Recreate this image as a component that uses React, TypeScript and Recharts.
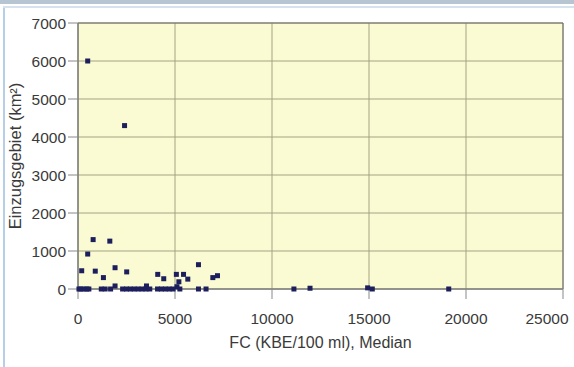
import { ScatterChart, Scatter, XAxis, YAxis, CartesianGrid, ReferenceArea } from 'recharts';

// FC median (KBE/100 ml) vs catchment area (km²)
const fcMedian = [
  500, 2400,
  190, 500, 780, 890, 1310, 1640, 1910, 2510,
  4110, 4420, 5070, 5200, 5440, 5660, 6210, 6950, 7190,
  1910, 3530, 5100,
  50, 150, 300, 450, 560, 1200, 1400, 1680, 2300, 2500, 2700, 2900, 3100, 3300,
  3500, 3700, 4100, 4300, 4500, 4700, 4900, 5250, 6210, 6600,
  11130, 11960, 14930, 15170, 19110,
];
const catchment = [
  6000, 4300,
  480, 920, 1300, 470, 300, 1260, 560, 450,
  385, 270, 385, 190, 385, 260, 640, 300, 350,
  80, 80, 60,
  0, 0, 0, 0, 0, 0, 0, 0, 0, 0, 0, 0, 0, 0,
  0, 0, 0, 0, 0, 0, 0, 0, 0, 0,
  0, 20, 30, 0, 0,
];

const xTicks = [0, 5000, 10000, 15000, 20000, 25000];
const yTicks = [0, 1000, 2000, 3000, 4000, 5000, 6000, 7000];

const points = fcMedian.map((x, i) => ({ x, y: catchment[i] }));

const Square = (props: any) => {
  const { cx, cy } = props;
  return <rect x={cx - 2.5} y={cy - 2.5} width={5} height={5} fill="#1c1f5c" />;
};

const fam = 'Liberation Sans, Arial, sans-serif';
const font = { fontFamily: fam, fontSize: 15.5, fill: '#3a3a3a' };

// last label sits a bit left, as in the scan
const XTick = (props: any) => {
  const { x, y, payload } = props;
  const shift = payload.value === 25000 ? -7 : 0;
  return (
    <text x={x + shift} y={y} dy="0.71em" textAnchor="middle" {...font}>
      {payload.value}
    </text>
  );
};

export default function App() {
  return (
    <div style={{ position: 'fixed', left: 0, top: 0, width: 574, height: 367, background: '#fff', overflow: 'hidden' }}>
      <div style={{ position: 'absolute', left: 0, top: 0, width: 574, height: 4, background: '#b7c4d2' }} />
      <div style={{ position: 'absolute', left: 3, top: 6, width: 2, height: 361, background: '#b4cfe6' }} />
      <div style={{ position: 'absolute', left: 3, top: 6, width: 571, height: 2, background: '#d6e2ee' }} />
      <ScatterChart width={574} height={367} margin={{ top: 23, right: 11, bottom: 0, left: 0 }}>
        <CartesianGrid stroke="#a3a384" fill="#fbfbd3" />
        <ReferenceArea x1={0} x2={25000} y1={0} y2={7000} fill="none" stroke="#6b6b6b" strokeOpacity={1} fillOpacity={0} />
        <XAxis
          dataKey="x"
          type="number"
          domain={[0, 25000]}
          ticks={xTicks}
          height={78}
          tickSize={10}
          tickMargin={14}
          stroke="#888"
          tick={<XTick />}
          label={{ value: 'FC (KBE/100 ml), Median', position: 'insideTop', offset: 48, style: { ...font, fontSize: 16 } }}
        />
        <YAxis
          dataKey="y"
          type="number"
          domain={[0, 7000]}
          ticks={yTicks}
          width={78}
          tickSize={10}
          tickMargin={2}
          stroke="#888"
          tick={font}
          label={{ value: 'Einzugsgebiet (km²)', angle: -90, position: 'insideLeft', offset: 15, style: { ...font, fontSize: 16.5, textAnchor: 'middle' } }}
        />
        <Scatter data={points} shape={<Square />} isAnimationActive={false} />
      </ScatterChart>
    </div>
  );
}
